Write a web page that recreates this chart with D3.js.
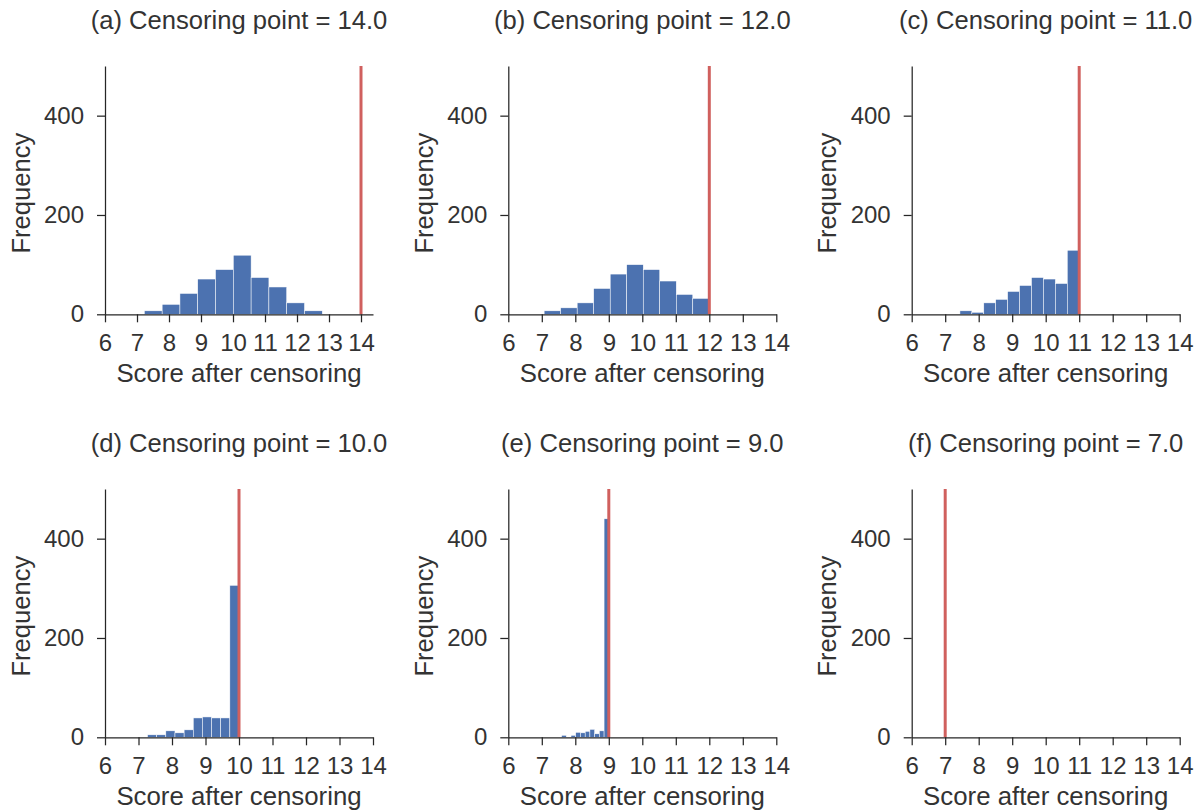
<!DOCTYPE html>
<html>
<head>
<meta charset="utf-8">
<script src="https://cdn.jsdelivr.net/npm/d3@7"></script>
<style>
  html, body { margin: 0; padding: 0; background: #fff; }
  svg { display: block; }
  text { font-family: "Liberation Sans", Arial, sans-serif; fill: #333; }
  .axis path, .axis line { stroke: #262626; stroke-width: 1.25; }
  .axis text { font-size: 24px; fill: #333; }
</style>
</head>
<body>
<svg id="chart" width="1202" height="811"></svg>
<script>
// Censoring points for the six panels
const panelLetters = ["a", "b", "c", "d", "e", "f"];
const censorPoints = [14.0, 12.0, 11.0, 10.0, 9.0, 7.0];

// Histogram range per panel (10 equal bins between lo and hi)
const binLo = [7.23, 7.07, 7.44, 7.27, 7.59, null];
const binHi = [12.79, 12.0, 11.0, 10.0, 9.0, null];

// Bin frequencies
const countsA = [7, 20, 42, 71, 90, 119, 74, 55, 23, 7];
const countsB = [7, 13, 23, 52, 81, 100, 90, 67, 40, 32];
const countsC = [7, 4, 23, 30, 46, 58, 74, 71, 62, 129];
const countsD = [5, 5, 13, 9, 15, 39, 41, 39, 39, 306];
const countsE = [4, 0, 4, 10, 9, 12, 16, 7, 13, 440];
const countsF = [];
const allCounts = [countsA, countsB, countsC, countsD, countsE, countsF];

// Axis settings
const xTicks = [6, 7, 8, 9, 10, 11, 12, 13, 14];
const yTicks = [0, 200, 400];
const xMin = 6;
const xMaxes = [14.375, 14, 14, 14, 14, 14];
const yMax = 500;

// Layout
const colLeft = [105, 508.3, 911.7];
const rowTop = [66, 489];
const plotW = 268;
const plotH = 248.3;

const barColor = "#4c72b0";
const lineColor = "#d0605e";

const svg = d3.select("#chart");

panelLetters.forEach((letter, i) => {
  const col = i % 3, row = Math.floor(i / 3);
  const x0 = colLeft[col], y0 = rowTop[row];

  const x = d3.scaleLinear().domain([xMin, xMaxes[i]]).range([0, plotW]);
  const y = d3.scaleLinear().domain([0, yMax]).range([plotH, 0]);

  const g = svg.append("g").attr("transform", `translate(${x0},${y0})`);

  // histogram bars
  const counts = allCounts[i];
  if (counts.length) {
    const width = (binHi[i] - binLo[i]) / counts.length;
    const bins = counts.map((c, k) => ({
      lo: binLo[i] + k * width,
      hi: binLo[i] + (k + 1) * width,
      c
    }));
    g.selectAll("rect.bar")
      .data(bins)
      .join("rect")
      .attr("class", "bar")
      .attr("x", d => x(d.lo))
      .attr("width", d => x(d.hi) - x(d.lo))
      .attr("y", d => y(d.c))
      .attr("height", d => y(0) - y(d.c))
      .attr("fill", barColor)
      .attr("stroke", "#fff")
      .attr("stroke-width", 0.5);
  }

  // censoring point marker
  g.append("line")
    .attr("x1", x(censorPoints[i])).attr("x2", x(censorPoints[i]))
    .attr("y1", y(0)).attr("y2", y(yMax))
    .attr("stroke", lineColor)
    .attr("stroke-width", 3);

  // axes
  g.append("g")
    .attr("class", "axis")
    .attr("transform", `translate(0,${plotH})`)
    .call(d3.axisBottom(x).tickValues(xTicks).tickFormat(d3.format("d"))
      .tickSize(8).tickSizeOuter(0).tickPadding(12));

  g.append("g")
    .attr("class", "axis")
    .call(d3.axisLeft(y).tickValues(yTicks).tickFormat(d3.format("d"))
      .tickSize(8).tickSizeOuter(0).tickPadding(13));

  // labels
  g.append("text")
    .attr("x", plotW / 2)
    .attr("y", -36.7)
    .attr("text-anchor", "middle")
    .style("font-size", "25.6px")
    .text(`(${letter}) Censoring point = ${censorPoints[i].toFixed(1)}`);

  g.append("text")
    .attr("x", plotW / 2)
    .attr("y", plotH + 67.7)
    .attr("text-anchor", "middle")
    .style("font-size", "25.8px")
    .text("Score after censoring");

  g.append("text")
    .attr("transform", `translate(-75.4,${plotH / 2 + 3}) rotate(-90)`)
    .attr("text-anchor", "middle")
    .style("font-size", "25.6px")
    .text("Frequency");
});
</script>
</body>
</html>
